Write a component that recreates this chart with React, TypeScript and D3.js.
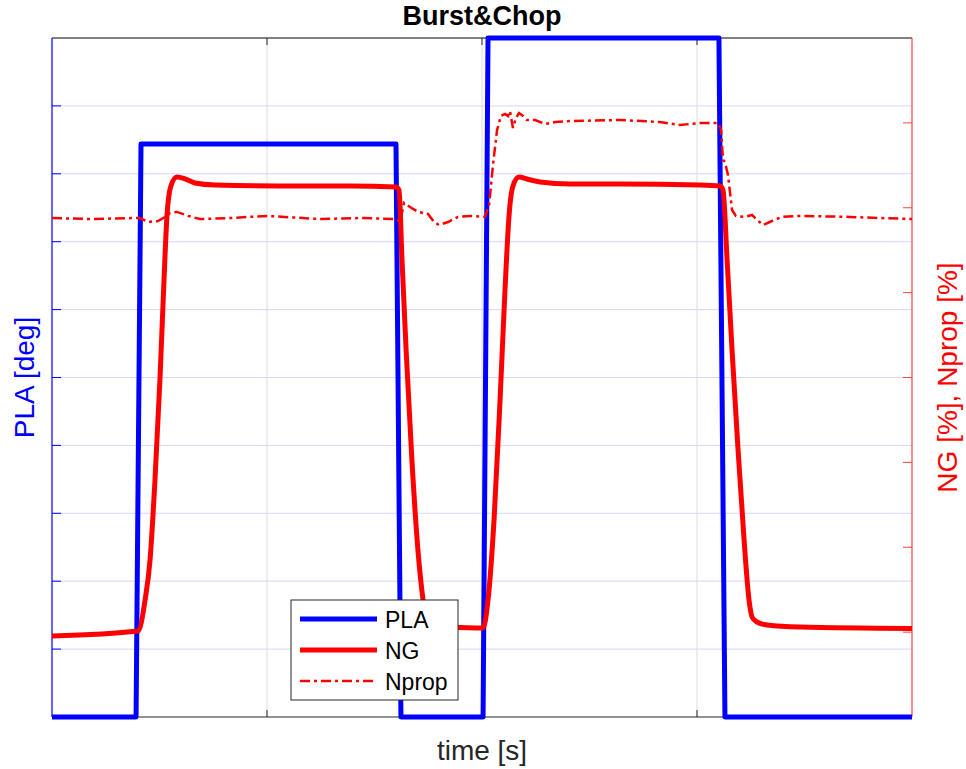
import React, { useEffect, useRef } from "react";
import * as d3 from "d3";

// PLA (left axis, deg)
const plaTime = [0, 0.391, 0.414, 1.6, 1.623, 2.005, 2.028, 3.102, 3.13, 4.0];
const plaValues = [0, 0, 8.44, 8.44, 0, 0, 10, 10, 0, 0];

// NG (right axis, %)
const ngTime = [
  0, 0.4, 0.433, 0.456, 0.479, 0.502, 0.521, 0.535, 0.553, 0.581, 0.619, 0.665, 0.758, 1.153, 1.386,
  1.6, 1.614, 1.628, 1.647, 1.674, 1.702, 1.726, 1.744, 1.767, 1.898, 2.005, 2.028, 2.056, 2.084,
  2.107, 2.126, 2.144, 2.172, 2.209, 2.27, 2.409, 2.642, 3.014, 3.107, 3.121, 3.14, 3.163, 3.191,
  3.219, 3.242, 3.256, 3.279, 3.326, 3.479, 4.0,
];
const ngValues = [
  9.54, 10.13, 13.8, 18.5, 27.93, 39.71, 51.49, 59.15, 62.56, 63.62, 63.39, 62.92, 62.68, 62.56, 62.56,
  62.44, 62.09, 53.84, 43.24, 30.28, 19.68, 13.78, 11.19, 10.6, 10.54, 10.49, 13.78, 23.21, 37.35,
  50.31, 59.15, 62.56, 63.62, 63.39, 63.03, 62.8, 62.8, 62.68, 62.56, 62.09, 53.84, 43.24, 31.46,
  20.85, 13.78, 11.78, 11.19, 10.84, 10.6, 10.43,
];

// Nprop (right axis, %)
const npropTime = [
  0, 0.177, 0.386, 0.409, 0.447, 0.493, 0.526, 0.549, 0.581, 0.633, 0.688, 0.828, 1.0, 1.247, 1.433,
  1.6, 1.619, 1.637, 1.665, 1.702, 1.749, 1.777, 1.8, 1.842, 1.888, 1.944, 2.014, 2.033, 2.051, 2.07,
  2.088, 2.107, 2.121, 2.13, 2.144, 2.158, 2.172, 2.191, 2.209, 2.247, 2.293, 2.34, 2.409, 2.642,
  2.828, 2.921, 3.014, 3.098, 3.112, 3.121, 3.13, 3.144, 3.163, 3.181, 3.223, 3.256, 3.279, 3.307,
  3.349, 3.395, 3.479, 3.712, 3.851, 4.0,
];
const npropValues = [
  58.79, 58.67, 58.79, 58.79, 58.32, 58.44, 58.92, 59.39, 59.51, 59.04, 58.67, 58.79, 59.04, 58.67,
  58.79, 58.67, 58.32, 60.56, 60.09, 59.51, 59.27, 58.32, 57.97, 58.32, 58.92, 59.04, 58.92, 60.33,
  65.04, 69.16, 70.81, 71.05, 70.81, 71.4, 69.4, 70.57, 71.16, 70.81, 70.34, 70.34, 69.87, 70.1,
  70.22, 70.34, 70.1, 69.75, 69.99, 69.99, 69.16, 65.63, 65.39, 63.86, 59.73, 59.04, 58.92, 59.15,
  58.56, 57.97, 58.44, 58.92, 59.04, 58.92, 58.79, 58.67,
];

const xTicks = [0, 1, 2, 3, 4];
const leftTicks = [1, 2, 3, 4, 5, 6, 7, 8, 9];
const rightTicks = [10, 20, 30, 40, 50, 60, 70];
const legendLabels = ["PLA", "NG", "Nprop"];

const App = () => {
  const svgRef = useRef(null);

  useEffect(() => {
    document.body.style.margin = "0";
    const width = 966;
    const height = 769;
    const left = 52;
    const right = 912;
    const top = 38;
    const bottom = 717;
    const font = "'Liberation Sans', Arial, Helvetica, sans-serif";
    const dash = "10 4 3 4";

    const svg = d3.select(svgRef.current).attr("width", width).attr("height", height);
    svg.selectAll("*").remove();
    svg.append("rect").attr("width", width).attr("height", height).attr("fill", "#fff");

    const x = d3.scaleLinear().domain([0, 4]).range([left, right]);
    const yL = d3.scaleLinear().domain([0, 10]).range([bottom, top]);
    const yR = d3.scaleLinear().domain([0, 80]).range([bottom, top]);

    // grid
    svg
      .selectAll(".hgrid")
      .data(leftTicks)
      .join("line")
      .attr("x1", left)
      .attr("x2", right)
      .attr("y1", (d) => yL(d))
      .attr("y2", (d) => yL(d))
      .attr("stroke", "#d6d6ff")
      .attr("stroke-width", 1);
    svg
      .selectAll(".vgrid")
      .data(xTicks.slice(1, -1))
      .join("line")
      .attr("x1", (d) => x(d))
      .attr("x2", (d) => x(d))
      .attr("y1", top)
      .attr("y2", bottom)
      .attr("stroke", "#dcdcdc")
      .attr("stroke-width", 1);

    // axes box
    svg.append("line").attr("x1", left).attr("x2", right).attr("y1", top).attr("y2", top)
      .attr("stroke", "#555").attr("stroke-width", 1.5);
    svg.append("line").attr("x1", left).attr("x2", right).attr("y1", bottom).attr("y2", bottom)
      .attr("stroke", "#262626").attr("stroke-width", 1);
    xTicks.slice(1, -1).forEach((t) => {
      svg.append("line").attr("x1", x(t)).attr("x2", x(t)).attr("y1", bottom).attr("y2", bottom - 7)
        .attr("stroke", "#262626");
      svg.append("line").attr("x1", x(t)).attr("x2", x(t)).attr("y1", top).attr("y2", top + 7)
        .attr("stroke", "#262626");
    });

    svg.append("line").attr("x1", left).attr("x2", left).attr("y1", top).attr("y2", bottom)
      .attr("stroke", "#0000ff").attr("stroke-width", 1.2);
    leftTicks.forEach((t) => {
      svg.append("line").attr("x1", left).attr("x2", left + 9).attr("y1", yL(t)).attr("y2", yL(t))
        .attr("stroke", "#0000ff");
    });

    svg.append("line").attr("x1", right).attr("x2", right).attr("y1", top).attr("y2", bottom)
      .attr("stroke", "#ff4040").attr("stroke-width", 1.2);
    rightTicks.forEach((t) => {
      svg.append("line").attr("x1", right).attr("x2", right - 9).attr("y1", yR(t)).attr("y2", yR(t))
        .attr("stroke", "#ff4040");
    });

    // series
    const plaData = plaTime.map((t, i) => [t, plaValues[i]]);
    const ngData = ngTime.map((t, i) => [t, ngValues[i]]);
    const npropData = npropTime.map((t, i) => [t, npropValues[i]]);

    const lineL = d3.line().x((d) => x(d[0])).y((d) => yL(d[1]));
    const lineR = d3.line().x((d) => x(d[0])).y((d) => yR(d[1]));
    const lineRsmooth = d3.line().x((d) => x(d[0])).y((d) => yR(d[1])).curve(d3.curveMonotoneX);

    svg.append("path").datum(plaData).attr("d", lineL).attr("fill", "none")
      .attr("stroke", "#0000ff").attr("stroke-width", 5).attr("stroke-linejoin", "round");
    svg.append("path").datum(ngData).attr("d", lineRsmooth).attr("fill", "none")
      .attr("stroke", "#ff0000").attr("stroke-width", 5).attr("stroke-linejoin", "round");
    svg.append("path").datum(npropData).attr("d", lineR).attr("fill", "none")
      .attr("stroke", "#ff0000").attr("stroke-width", 2.5).attr("stroke-dasharray", dash);

    // title and labels
    svg.append("text").attr("x", (left + right) / 2).attr("y", 25).attr("text-anchor", "middle")
      .attr("font-family", font).attr("font-weight", "bold").attr("font-size", 27)
      .attr("fill", "#000").text("Burst&Chop");
    svg.append("text").attr("x", (left + right) / 2).attr("y", 760).attr("text-anchor", "middle")
      .attr("font-family", font).attr("font-size", 28).attr("fill", "#262626").text("time [s]");
    svg.append("text").attr("transform", `translate(34,${(top + bottom) / 2}) rotate(-90)`)
      .attr("text-anchor", "middle").attr("font-family", font).attr("font-size", 28)
      .attr("fill", "#0000ff").text("PLA [deg]");
    svg.append("text").attr("transform", `translate(957,${(top + bottom) / 2}) rotate(-90)`)
      .attr("text-anchor", "middle").attr("font-family", font).attr("font-size", 28)
      .attr("fill", "#ff0000").text("NG [%], Nprop [%]");

    // legend
    const lg = svg.append("g");
    lg.append("rect").attr("x", 291).attr("y", 600).attr("width", 167).attr("height", 100)
      .attr("fill", "#fff").attr("stroke", "#262626").attr("stroke-width", 1);
    const legendStyles = [
      { color: "#0000ff", w: 5, dash: null },
      { color: "#ff0000", w: 5, dash: null },
      { color: "#ff0000", w: 2.5, dash: dash },
    ];
    legendLabels.forEach((label, i) => {
      const yy = 619 + i * 31;
      const s = legendStyles[i];
      lg.append("line").attr("x1", 300).attr("x2", 377).attr("y1", yy).attr("y2", yy)
        .attr("stroke", s.color).attr("stroke-width", s.w).attr("stroke-dasharray", s.dash);
      lg.append("text").attr("x", 385).attr("y", yy + 9).attr("font-family", font)
        .attr("font-size", 23).attr("fill", "#000").text(label);
    });
  }, []);

  return <svg ref={svgRef} style={{ display: "block" }}></svg>;
};

export default App;
